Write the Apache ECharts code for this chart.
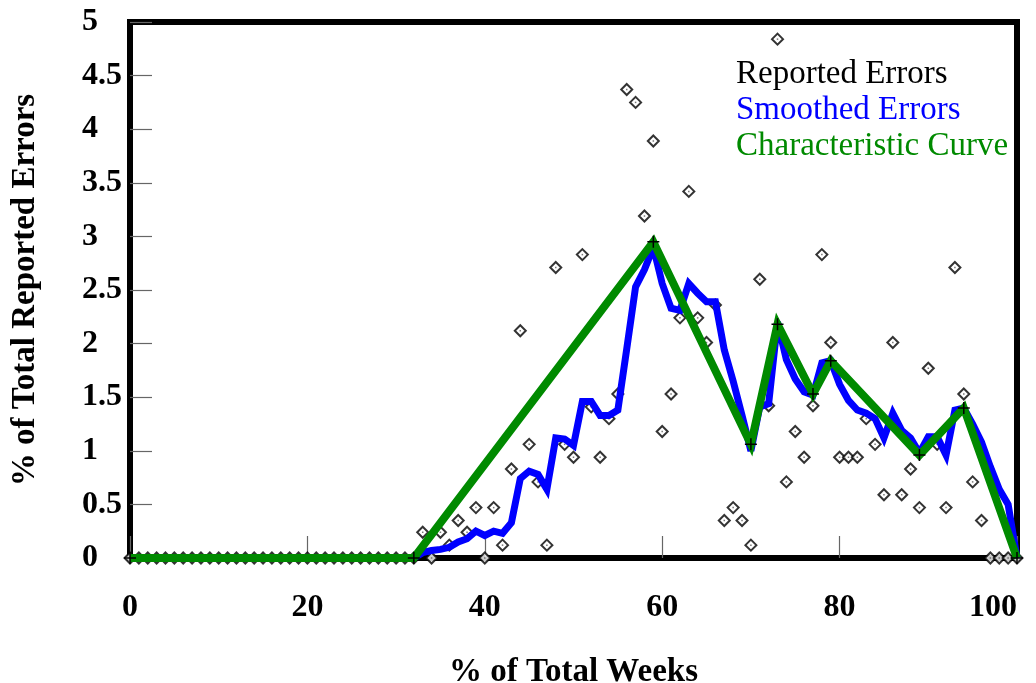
<!DOCTYPE html>
<html>
<head>
<meta charset="utf-8">
<script src="https://cdn.jsdelivr.net/npm/echarts@6/dist/echarts.min.js"></script>
<style>html,body{margin:0;padding:0;background:#fff}#c{width:1036px;height:683px}</style>
</head>
<body>
<div id="c"></div>
<script>
// Reported errors: [week %, % of errors]
var reportedWeeks = [0,1,2,3,4,5,6,7,8,9,10,11,12,13,14,15,16,17,18,19,20,21,22,23,24,25,26,27,28,29,30,31,32,
  33,34,35,36,37,38,39,40,41,42,43,44,45,46,47,48,49,50,51,52,53,54,55,56,57,58,59,60,61,62,63,64,65,66,67,68,69,70,
  71,72,73,74,75,76,77,78,79,80,81,82,83,84,85,86,87,88,89,90,91,92,93,94,95,96,97,98,99,100];
var reportedValues = [0,0,0,0,0,0,0,0,0,0,0,0,0,0,0,0,0,0,0,0,0,0,0,0,0,0,0,0,0,0,0,0,0,
  0.24,0,0.24,0.12,0.35,0.24,0.47,0,0.47,0.12,0.83,2.12,1.06,0.71,0.12,2.71,1.06,0.94,2.83,1.41,0.94,1.30,1.53,4.37,4.25,3.19,3.89,1.18,1.53,2.24,3.42,2.24,2.01,2.36,0.35,0.47,0.35,0.12,
  2.60,1.42,4.84,0.71,1.18,0.94,1.42,2.83,2.01,0.94,0.94,0.94,1.30,1.06,0.59,2.01,0.59,0.83,0.47,1.77,1.06,0.47,2.71,1.53,0.71,0.35,0,0,0,0];

var smoothWeeks = [32,33,34,35,36,37,38,39,40,41,42,43,44,45,46,47,48,49,50,51,52,53,54,55,56,57,58,59,60,61,62,63,64,65,66,67,68,69,70,
  71,72,73,74,75,76,77,78,79,80,81,82,83,84,85,86,87,88,89,90,91,92,93,94,95,96,97,98,99,100];
var smoothValues = [0,0.05,0.07,0.08,0.10,0.15,0.18,0.25,0.21,0.25,0.23,0.33,0.74,0.81,0.78,0.64,1.12,1.11,1.05,1.46,1.46,1.33,1.33,1.38,1.95,2.53,2.69,2.90,2.56,2.33,2.31,2.56,2.47,2.39,2.39,1.94,1.65,1.33,1.00,
  1.41,1.44,2.20,1.85,1.67,1.55,1.52,1.82,1.84,1.62,1.47,1.38,1.35,1.30,1.12,1.35,1.19,1.12,0.98,1.13,1.13,0.96,1.38,1.40,1.25,1.08,0.85,0.64,0.50,0];

var curveWeeks = [0,32,59,70,73,77,79,89,94,100];
var curveValues = [0,0,2.95,1.06,2.18,1.53,1.84,0.96,1.40,0];

function pairs(xs, ys){ var out=[]; for(var i=0;i<xs.length;i++){ out.push([xs[i], ys[i]]); } return out; }

var serif = 'Liberation Serif';
var TL = 11;
function tickAxisX(pos){
  return {type:'value', min:0, max:100, interval:20, position:pos, offset:-TL,
    axisLine:{show:false}, splitLine:{show:false}, axisLabel:{show:false},
    axisTick:{show:true, inside:false, length:TL, lineStyle:{color:'#666', width:1.2}}};
}
function tickAxisY(pos){
  return {type:'value', min:0, max:5, interval:0.5, position:pos, offset:-TL,
    axisLine:{show:false}, splitLine:{show:false}, axisLabel:{show:false},
    axisTick:{show:true, inside:false, length:TL, lineStyle:{color:'#666', width:1.2}}};
}
var chart = echarts.init(document.getElementById('c'));
chart.setOption({
  backgroundColor:'#fff',
  animation:false,
  grid:{left:130, right:19, top:22, bottom:125, show:true, borderColor:'#000', borderWidth:6, backgroundColor:'transparent',
        containLabel:false, outerBoundsMode:'none'},
  legend:{
    orient:'vertical', left:726, top:51, itemWidth:0, itemHeight:10, itemGap:0, itemTextGap:0, icon:'none',
    selectedMode:false,
    textStyle:{fontFamily:serif, fontSize:33, lineHeight:36},
    data:[
      {name:'Reported Errors', textStyle:{color:'#000'}},
      {name:'Smoothed Errors', textStyle:{color:'#0000ff'}},
      {name:'Characteristic Curve', textStyle:{color:'#008a00'}}
    ]
  },
  xAxis:[
    {type:'value', min:0, max:100, interval:20, position:'bottom',
     axisLine:{show:false}, axisTick:{show:false}, splitLine:{show:false},
     axisLabel:{fontFamily:serif, fontWeight:'bold', fontSize:32, color:'#000', margin:34, alignMaxLabel:'right'},
     name:'% of Total Weeks', nameLocation:'middle', nameGap:98,
     nameTextStyle:{fontFamily:serif, fontWeight:'bold', fontSize:33, color:'#000'}},
    tickAxisX('bottom'),
    tickAxisX('top')
  ],
  yAxis:[
    {type:'value', min:0, max:5, interval:0.5, position:'left',
     axisLine:{show:false}, axisTick:{show:false}, splitLine:{show:false},
     axisLabel:{fontFamily:serif, fontWeight:'bold', fontSize:32, color:'#000', margin:48, align:'left', padding:[6,0,0,0]},
     name:'% of Total Reported Errors', nameLocation:'middle', nameGap:88,
     nameTextStyle:{fontFamily:serif, fontWeight:'bold', fontSize:33, color:'#000'}},
    tickAxisY('left'),
    tickAxisY('right')
  ],
  series:[
    {name:'Reported Errors', type:'scatter', data:pairs(reportedWeeks, reportedValues),
     symbol:'emptyDiamond', symbolSize:11, z:2,
     itemStyle:{color:'#000', borderColor:'#000', borderWidth:1.2}},
    {name:'Reported Errors dots', type:'scatter', data:pairs(reportedWeeks, reportedValues),
     symbol:'rect', symbolSize:1.5, z:3, silent:true, itemStyle:{color:'#555'}},
    {name:'Smoothed Errors', type:'line', data:pairs(smoothWeeks, smoothValues),
     showSymbol:false, z:4, lineStyle:{color:'#0000ff', width:7, join:'miter', miterLimit:4},
     itemStyle:{color:'#0000ff'}},
    {name:'Characteristic Curve', type:'line', data:pairs(curveWeeks, curveValues),
     symbol:'path://M5,0L5,10M0,5L10,5', symbolSize:12, showSymbol:true, z:5,
     lineStyle:{color:'#008a00', width:8, join:'miter'},
     itemStyle:{color:'#008a00', borderColor:'#000', borderWidth:1.5}}
  ]
});
</script>
</body>
</html>
